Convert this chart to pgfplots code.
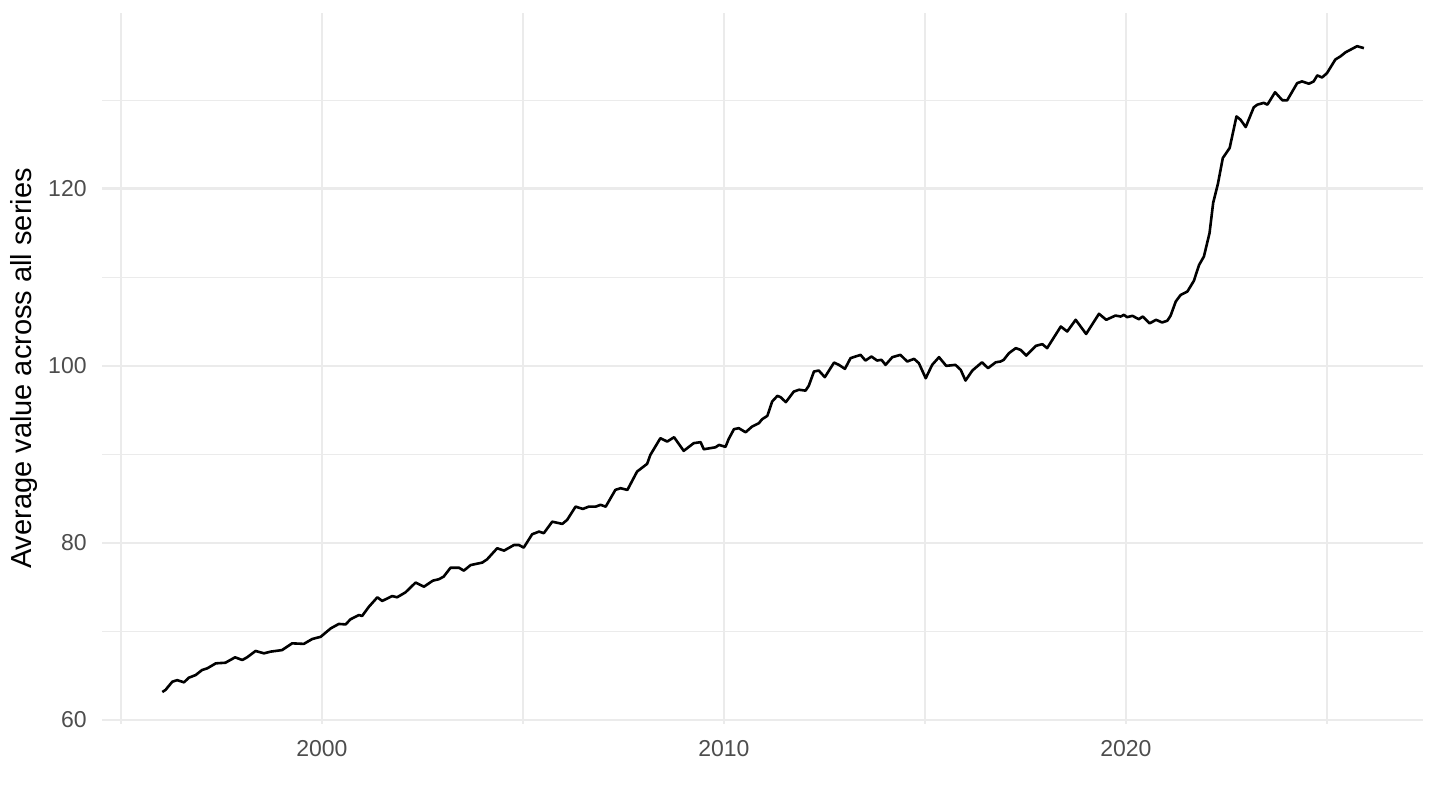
\documentclass[border=0pt]{standalone}
\usepackage{fontspec}
\setmainfont{Liberation Sans}
\usepackage{pgfplots}
\pgfplotsset{compat=1.18}

\definecolor{gridgray}{RGB}{235,235,235}
\definecolor{ticktext}{RGB}{77,77,77}

\pgfplotstableread{
year value
1996.03 63.16
1996.11 63.40
1996.28 64.33
1996.40 64.50
1996.57 64.26
1996.69 64.78
1996.86 65.08
1997.02 65.65
1997.15 65.84
1997.36 66.40
1997.60 66.47
1997.84 67.08
1998.02 66.78
1998.14 67.08
1998.35 67.80
1998.56 67.53
1998.72 67.72
1999.01 67.90
1999.26 68.66
1999.55 68.60
1999.76 69.15
1999.97 69.40
2000.22 70.35
2000.42 70.85
2000.59 70.80
2000.71 71.37
2000.92 71.86
2001.00 71.75
2001.17 72.80
2001.38 73.86
2001.50 73.45
2001.75 74.00
2001.87 73.86
2002.08 74.42
2002.33 75.52
2002.54 75.06
2002.76 75.74
2002.91 75.90
2003.03 76.20
2003.20 77.20
2003.41 77.20
2003.53 76.87
2003.70 77.50
2003.99 77.78
2004.11 78.15
2004.36 79.40
2004.53 79.13
2004.78 79.77
2004.90 79.77
2005.02 79.47
2005.23 80.98
2005.40 81.28
2005.52 81.10
2005.73 82.40
2005.98 82.15
2006.10 82.60
2006.31 84.10
2006.49 83.84
2006.64 84.10
2006.81 84.10
2006.93 84.30
2007.06 84.10
2007.30 85.99
2007.43 86.18
2007.60 85.99
2007.84 88.06
2008.09 88.93
2008.17 89.94
2008.42 91.83
2008.59 91.45
2008.76 91.94
2009.00 90.40
2009.25 91.27
2009.42 91.38
2009.50 90.58
2009.79 90.80
2009.88 91.07
2010.04 90.85
2010.12 91.75
2010.25 92.85
2010.37 92.96
2010.54 92.50
2010.70 93.14
2010.87 93.52
2010.95 93.97
2011.08 94.35
2011.20 95.97
2011.33 96.61
2011.41 96.46
2011.54 95.90
2011.74 97.10
2011.87 97.30
2012.03 97.20
2012.11 97.74
2012.24 99.36
2012.36 99.47
2012.51 98.72
2012.74 100.37
2012.86 100.11
2013.01 99.66
2013.15 100.87
2013.40 101.24
2013.52 100.60
2013.67 101.05
2013.81 100.60
2013.92 100.68
2014.02 100.11
2014.19 100.98
2014.39 101.24
2014.56 100.49
2014.73 100.79
2014.85 100.30
2015.02 98.60
2015.18 100.11
2015.35 100.98
2015.53 100.00
2015.76 100.11
2015.89 99.55
2016.01 98.34
2016.18 99.47
2016.42 100.40
2016.57 99.74
2016.76 100.40
2016.88 100.49
2016.96 100.68
2017.09 101.43
2017.26 102.00
2017.38 101.80
2017.52 101.16
2017.76 102.26
2017.92 102.45
2018.04 102.00
2018.38 104.44
2018.54 103.88
2018.75 105.20
2019.01 103.60
2019.33 105.88
2019.51 105.20
2019.74 105.68
2019.87 105.57
2019.95 105.76
2020.03 105.50
2020.16 105.65
2020.32 105.27
2020.42 105.57
2020.59 104.80
2020.75 105.20
2020.90 104.90
2021.03 105.10
2021.11 105.65
2021.24 107.27
2021.36 108.00
2021.53 108.40
2021.69 109.60
2021.82 111.40
2021.94 112.35
2022.08 115.00
2022.17 118.40
2022.29 120.60
2022.41 123.47
2022.58 124.60
2022.75 128.17
2022.85 127.80
2022.98 126.97
2023.18 129.20
2023.27 129.50
2023.43 129.70
2023.52 129.50
2023.71 130.90
2023.89 130.00
2024.01 129.98
2024.26 131.93
2024.38 132.12
2024.55 131.86
2024.67 132.12
2024.76 132.80
2024.88 132.57
2025.00 133.05
2025.21 134.60
2025.34 134.96
2025.46 135.40
2025.75 136.10
2025.92 135.88
}\avgdata

\begin{document}
\begin{tikzpicture}
\useasboundingbox (-51pt,-43pt) rectangle (669pt,362pt);
\begin{axis}[
  scale only axis,
  width=660.5pt, height=355.5pt,
  at={(0,0)}, anchor=south west,
  xmin=1994.53, xmax=2027.39,
  ymin=59.55, ymax=139.85,
  axis line style={draw=none},
  major tick length=0pt, minor tick length=0pt,
  xtick={2000,2010,2020},
  minor xtick={1995,2005,2015,2025},
  ytick={60,80,100,120},
  minor ytick={70,90,110,130},
  xmajorgrids, ymajorgrids, xminorgrids, yminorgrids,
  major grid style={draw=gridgray, line width=1.3pt},
  minor grid style={draw=gridgray, line width=0.65pt},
  /pgf/number format/assume math mode=true,
  /pgf/number format/1000 sep={},
  xticklabel style={font=\fontsize{11.5}{13}\selectfont, text=ticktext, anchor=north, inner sep=0pt, yshift=-8pt},
  yticklabel style={font=\fontsize{11.5}{13}\selectfont, text=ticktext, anchor=east, inner sep=0pt, xshift=-7.5pt},
  ylabel={Average value across all series},
  ylabel style={font=\fontsize{14.5}{17}\selectfont, at={(axis description cs:-0.059,0.5)}, anchor=center, rotate=0},
]
\addplot [black, line width=1.3pt, line join=round] table [x=year, y=value] {\avgdata};
\end{axis}
\end{tikzpicture}
\end{document}
